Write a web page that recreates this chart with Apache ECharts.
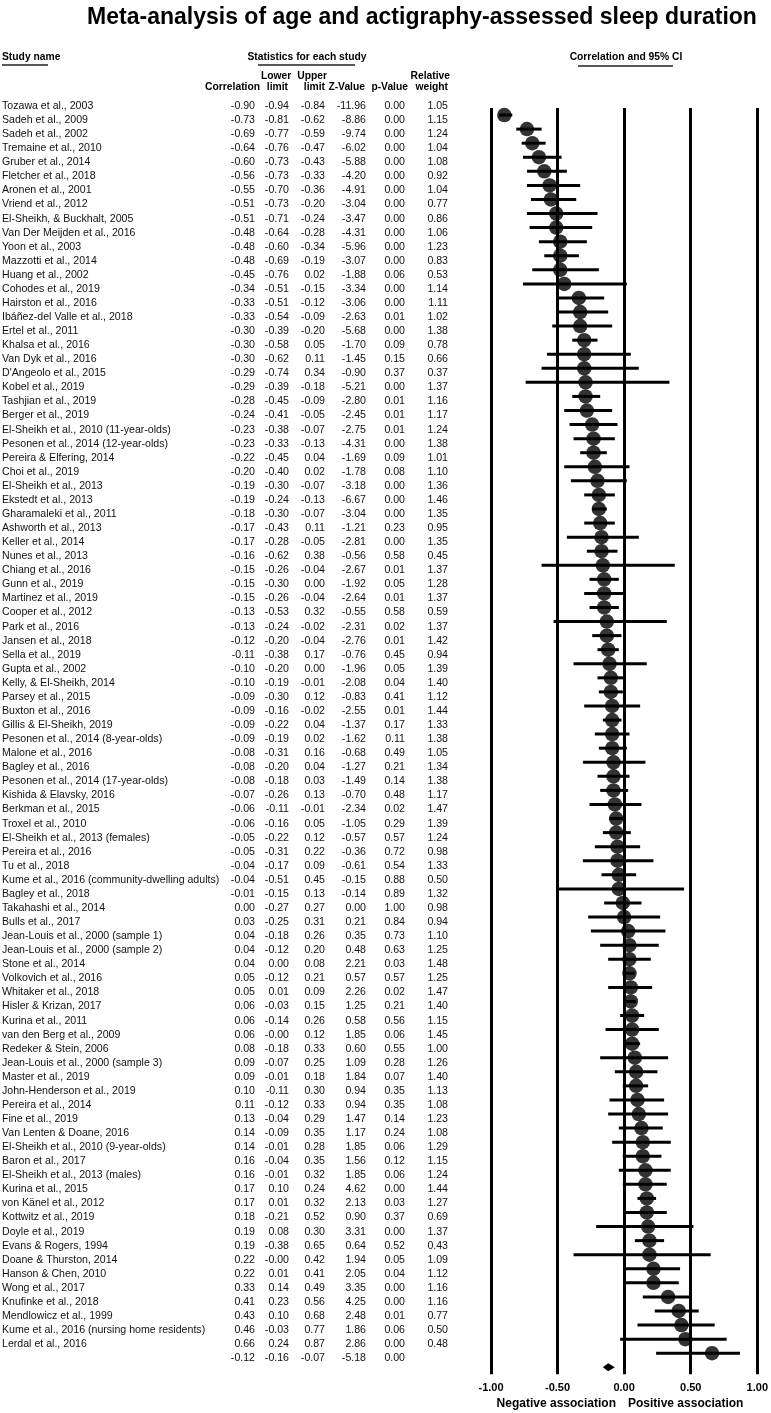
<!DOCTYPE html>
<html>
<head>
<meta charset="utf-8">
<script src="https://cdn.jsdelivr.net/npm/echarts@6/dist/echarts.min.js"></script>
<style>
  html, body { margin: 0; padding: 0; background: #fff; }
  #main { width: 771px; height: 1413px; }
</style>
</head>
<body>
<div id="main"></div>
<script>
// study data
var studies = [
  'Tozawa et al., 2003', 'Sadeh et al., 2009', 'Sadeh et al., 2002', 'Tremaine et al., 2010',
  'Gruber et al., 2014', 'Fletcher et al., 2018', 'Aronen et al., 2001', 'Vriend et al., 2012',
  'El-Sheikh, & Buckhalt, 2005', 'Van Der Meijden et al., 2016', 'Yoon et al., 2003', 'Mazzotti et al., 2014',
  'Huang et al., 2002', 'Cohodes et al., 2019', 'Hairston et al., 2016', 'Ibáñez-del Valle et al., 2018',
  'Ertel et al., 2011', 'Khalsa et al., 2016', 'Van Dyk et al., 2016', "D'Angeolo et al., 2015",
  'Kobel et al., 2019', 'Tashjian et al., 2019', 'Berger et al., 2019', 'El-Sheikh et al., 2010 (11-year-olds)',
  'Pesonen et al., 2014 (12-year-olds)', 'Pereira & Elfering, 2014', 'Choi et al., 2019', 'El-Sheikh et al., 2013',
  'Ekstedt et al., 2013', 'Gharamaleki et al., 2011', 'Ashworth et al., 2013', 'Keller et al., 2014',
  'Nunes et al., 2013', 'Chiang et al., 2016', 'Gunn et al., 2019', 'Martinez et al., 2019',
  'Cooper et al., 2012', 'Park et al., 2016', 'Jansen et al., 2018', 'Sella et al., 2019',
  'Gupta et al., 2002', 'Kelly, & El-Sheikh, 2014', 'Parsey et al., 2015', 'Buxton et al., 2016',
  'Gillis & El-Sheikh, 2019', 'Pesonen et al., 2014 (8-year-olds)', 'Malone et al., 2016', 'Bagley et al., 2016',
  'Pesonen et al., 2014 (17-year-olds)', 'Kishida & Elavsky, 2016', 'Berkman et al., 2015', 'Troxel et al., 2010',
  'El-Sheikh et al., 2013 (females)', 'Pereira et al., 2016', 'Tu et al., 2018', 'Kume et al., 2016 (community-dwelling adults)',
  'Bagley et al., 2018', 'Takahashi et al., 2014', 'Bulls et al., 2017', 'Jean-Louis et al., 2000 (sample 1)',
  'Jean-Louis et al., 2000 (sample 2)', 'Stone et al., 2014', 'Volkovich et al., 2016', 'Whitaker et al., 2018',
  'Hisler & Krizan, 2017', 'Kurina et al., 2011', 'van den Berg et al., 2009', 'Redeker & Stein, 2006',
  'Jean-Louis et al., 2000 (sample 3)', 'Master et al., 2019', 'John-Henderson et al., 2019', 'Pereira et al., 2014',
  'Fine et al., 2019', 'Van Lenten & Doane, 2016', 'El-Sheikh et al., 2010 (9-year-olds)', 'Baron et al., 2017',
  'El-Sheikh et al., 2013 (males)', 'Kurina et al., 2015', 'von Känel et al., 2012', 'Kottwitz et al., 2019',
  'Doyle et al., 2019', 'Evans & Rogers, 1994', 'Doane & Thurston, 2014', 'Hanson & Chen, 2010',
  'Wong et al., 2017', 'Knufinke et al., 2018', 'Mendlowicz et al., 1999', 'Kume et al., 2016 (nursing home residents)',
  'Lerdal et al., 2016'
];
var correlation = [
  -0.90, -0.73, -0.69, -0.64, -0.60, -0.56, -0.55, -0.51, -0.51, -0.48, -0.48, -0.48,
  -0.45, -0.34, -0.33, -0.33, -0.30, -0.30, -0.30, -0.29, -0.29, -0.28, -0.24, -0.23,
  -0.23, -0.22, -0.20, -0.19, -0.19, -0.18, -0.17, -0.17, -0.16, -0.15, -0.15, -0.15,
  -0.13, -0.13, -0.12, -0.11, -0.10, -0.10, -0.09, -0.09, -0.09, -0.09, -0.08, -0.08,
  -0.08, -0.07, -0.06, -0.06, -0.05, -0.05, -0.04, -0.04, -0.01, 0.00, 0.03, 0.04,
  0.04, 0.04, 0.05, 0.05, 0.06, 0.06, 0.06, 0.08, 0.09, 0.09, 0.10, 0.11,
  0.13, 0.14, 0.14, 0.16, 0.16, 0.17, 0.17, 0.18, 0.19, 0.19, 0.22, 0.22,
  0.33, 0.41, 0.43, 0.46, 0.66
];
var lowerLimit = [
  -0.94, -0.81, -0.77, -0.76, -0.73, -0.73, -0.70, -0.73, -0.71, -0.64, -0.60, -0.69,
  -0.76, -0.51, -0.51, -0.54, -0.39, -0.58, -0.62, -0.74, -0.39, -0.45, -0.41, -0.38,
  -0.33, -0.45, -0.40, -0.30, -0.24, -0.30, -0.43, -0.28, -0.62, -0.26, -0.30, -0.26,
  -0.53, -0.24, -0.20, -0.38, -0.20, -0.19, -0.30, -0.16, -0.22, -0.19, -0.31, -0.20,
  -0.18, -0.26, -0.11, -0.16, -0.22, -0.31, -0.17, -0.51, -0.15, -0.27, -0.25, -0.18,
  -0.12, 0.00, -0.12, 0.01, -0.03, -0.14, -0.00, -0.18, -0.07, -0.01, -0.11, -0.12,
  -0.04, -0.09, -0.01, -0.04, -0.01, 0.10, 0.01, -0.21, 0.08, -0.38, -0.00, 0.01,
  0.14, 0.23, 0.10, -0.03, 0.24
];
var upperLimit = [
  -0.84, -0.62, -0.59, -0.47, -0.43, -0.33, -0.36, -0.20, -0.24, -0.28, -0.34, -0.19,
  0.02, -0.15, -0.12, -0.09, -0.20, 0.05, 0.11, 0.34, -0.18, -0.09, -0.05, -0.07,
  -0.13, 0.04, 0.02, -0.07, -0.13, -0.07, 0.11, -0.05, 0.38, -0.04, 0.00, -0.04,
  0.32, -0.02, -0.04, 0.17, 0.00, -0.01, 0.12, -0.02, 0.04, 0.02, 0.16, 0.04,
  0.03, 0.13, -0.01, 0.05, 0.12, 0.22, 0.09, 0.45, 0.13, 0.27, 0.31, 0.26,
  0.20, 0.08, 0.21, 0.09, 0.15, 0.26, 0.12, 0.33, 0.25, 0.18, 0.30, 0.33,
  0.29, 0.35, 0.28, 0.35, 0.32, 0.24, 0.32, 0.52, 0.30, 0.65, 0.42, 0.41,
  0.49, 0.56, 0.68, 0.77, 0.87
];
var zValue = [
  -11.96, -8.86, -9.74, -6.02, -5.88, -4.20, -4.91, -3.04, -3.47, -4.31, -5.96, -3.07,
  -1.88, -3.34, -3.06, -2.63, -5.68, -1.70, -1.45, -0.90, -5.21, -2.80, -2.45, -2.75,
  -4.31, -1.69, -1.78, -3.18, -6.67, -3.04, -1.21, -2.81, -0.56, -2.67, -1.92, -2.64,
  -0.55, -2.31, -2.76, -0.76, -1.96, -2.08, -0.83, -2.55, -1.37, -1.62, -0.68, -1.27,
  -1.49, -0.70, -2.34, -1.05, -0.57, -0.36, -0.61, -0.15, -0.14, 0.00, 0.21, 0.35,
  0.48, 2.21, 0.57, 2.26, 1.25, 0.58, 1.85, 0.60, 1.09, 1.84, 0.94, 0.94,
  1.47, 1.17, 1.85, 1.56, 1.85, 4.62, 2.13, 0.90, 3.31, 0.64, 1.94, 2.05,
  3.35, 4.25, 2.48, 1.86, 2.86
];
var pValue = [
  0.00, 0.00, 0.00, 0.00, 0.00, 0.00, 0.00, 0.00, 0.00, 0.00, 0.00, 0.00,
  0.06, 0.00, 0.00, 0.01, 0.00, 0.09, 0.15, 0.37, 0.00, 0.01, 0.01, 0.01,
  0.00, 0.09, 0.08, 0.00, 0.00, 0.00, 0.23, 0.00, 0.58, 0.01, 0.05, 0.01,
  0.58, 0.02, 0.01, 0.45, 0.05, 0.04, 0.41, 0.01, 0.17, 0.11, 0.49, 0.21,
  0.14, 0.48, 0.02, 0.29, 0.57, 0.72, 0.54, 0.88, 0.89, 1.00, 0.84, 0.73,
  0.63, 0.03, 0.57, 0.02, 0.21, 0.56, 0.06, 0.55, 0.28, 0.07, 0.35, 0.35,
  0.14, 0.24, 0.06, 0.12, 0.06, 0.00, 0.03, 0.37, 0.00, 0.52, 0.05, 0.04,
  0.00, 0.00, 0.01, 0.06, 0.00
];
var relWeight = [
  1.05, 1.15, 1.24, 1.04, 1.08, 0.92, 1.04, 0.77, 0.86, 1.06, 1.23, 0.83,
  0.53, 1.14, 1.11, 1.02, 1.38, 0.78, 0.66, 0.37, 1.37, 1.16, 1.17, 1.24,
  1.38, 1.01, 1.10, 1.36, 1.46, 1.35, 0.95, 1.35, 0.45, 1.37, 1.28, 1.37,
  0.59, 1.37, 1.42, 0.94, 1.39, 1.40, 1.12, 1.44, 1.33, 1.38, 1.05, 1.34,
  1.38, 1.17, 1.47, 1.39, 1.24, 0.98, 1.33, 0.50, 1.32, 0.98, 0.94, 1.10,
  1.25, 1.48, 1.25, 1.47, 1.40, 1.15, 1.45, 1.00, 1.26, 1.40, 1.13, 1.08,
  1.23, 1.08, 1.29, 1.15, 1.24, 1.44, 1.27, 0.69, 1.37, 0.43, 1.09, 1.12,
  1.16, 1.16, 0.77, 0.50, 0.48
];
// pooled estimate: correlation, lower, upper, Z, p
var summaryStats = [-0.12, -0.16, -0.07, -5.18, 0.00];
var xTicks = [-1, -0.5, 0, 0.5, 1];

var nRows = studies.length + 1;   // studies + summary row
var summaryRow = studies.length;
var FONT = 'Liberation Sans, Arial, sans-serif';
var HEAD = 'bold 10.3px ' + FONT;

// right edges of the numeric columns in the table
var colRight = [255, 289, 325, 366, 405, 448];

// lower limits printed as "-0.00" in the original table
var negZeroLower = { 'van den Berg et al., 2009': 1, 'Doane & Thurston, 2014': 1 };

var tableRows = [];
for (var i = 0; i < nRows; i++) tableRows.push([0, i]);

var ciData = [];
var pointData = [];
for (var j = 0; j < studies.length; j++) {
  ciData.push([lowerLimit[j], upperLimit[j], j]);
  pointData.push([correlation[j], j]);
}

function headText(txt, x, y, align) {
  return {
    type: 'text', x: x, y: y,
    style: { text: txt, font: HEAD, fill: '#000', align: align, verticalAlign: 'middle' }
  };
}

var chart = echarts.init(document.getElementById('main'));

chart.setOption({
  animation: false,
  backgroundColor: '#fff',
  grid: [
    { left: 0, top: 99, width: 460, height: 1266.3 },
    { left: 491, top: 108, width: 270, height: 1266.3 }
  ],
  xAxis: [
    { gridIndex: 0, type: 'value', min: 0, max: 460, show: false },
    {
      gridIndex: 1, type: 'value', min: xTicks[0], max: xTicks[xTicks.length - 1], interval: 0.5,
      axisLine: { show: false }, axisTick: { show: false },
      splitLine: { show: true, lineStyle: { color: '#000', width: 3 } },
      axisLabel: {
        margin: 8, fontFamily: FONT, fontSize: 11, fontWeight: 'bold', color: '#000',
        formatter: function (v) { return v.toFixed(2); }
      }
    }
  ],
  yAxis: [
    { gridIndex: 0, type: 'value', min: -0.5, max: nRows - 0.5, inverse: true, show: false },
    { gridIndex: 1, type: 'value', min: -0.5, max: nRows - 0.5, inverse: true, show: false }
  ],
  graphic: [
    {
      type: 'text', x: 422, y: 18,
      style: {
        text: 'Meta-analysis of age and actigraphy-assessed sleep duration',
        font: 'bold 23px ' + FONT, fill: '#000', align: 'center', verticalAlign: 'middle'
      }
    },
    headText('Study name', 2, 57, 'left'),
    { type: 'line', shape: { x1: 2, y1: 65, x2: 48, y2: 65 }, style: { stroke: '#222', lineWidth: 1.5 } },
    headText('Statistics for each study', 307, 57, 'center'),
    { type: 'line', shape: { x1: 258, y1: 65, x2: 355, y2: 65 }, style: { stroke: '#222', lineWidth: 1.5 } },
    headText('Correlation and 95% CI', 626, 57, 'center'),
    { type: 'line', shape: { x1: 578, y1: 66, x2: 673, y2: 66 }, style: { stroke: '#222', lineWidth: 1.5 } },
    headText('Lower', 261, 76, 'left'),
    headText('Upper', 327, 76, 'right'),
    headText('Relative', 450, 76, 'right'),
    headText('Correlation', 260, 87, 'right'),
    headText('limit', 288, 87, 'right'),
    headText('limit', 325, 87, 'right'),
    headText('Z-Value', 365, 87, 'right'),
    headText('p-Value', 408, 87, 'right'),
    headText('weight', 448, 87, 'right'),
    {
      type: 'text', x: 616, y: 1404,
      style: { text: 'Negative association', font: 'bold 12px ' + FONT, fill: '#000', align: 'right', verticalAlign: 'middle' }
    },
    {
      type: 'text', x: 628, y: 1404,
      style: { text: 'Positive association', font: 'bold 12px ' + FONT, fill: '#000', align: 'left', verticalAlign: 'middle' }
    }
  ],
  series: [
    {
      // table of study statistics
      type: 'custom',
      xAxisIndex: 0, yAxisIndex: 0,
      data: tableRows,
      silent: true,
      renderItem: function (params, api) {
        var row = api.value(1);
        var y = api.coord([0, row])[1];
        var font = '10.6px ' + FONT;
        var children = [];
        var cells;
        if (row === summaryRow) {
          cells = summaryStats.map(function (v) { return v.toFixed(2); });
        } else {
          var lo = negZeroLower[studies[row]] ? '-0.00' : lowerLimit[row].toFixed(2);
          cells = [correlation[row].toFixed(2), lo, upperLimit[row].toFixed(2),
                   zValue[row].toFixed(2), pValue[row].toFixed(2), relWeight[row].toFixed(2)];
          children.push({
            type: 'text', x: 2, y: y,
            style: { text: studies[row], font: font, fill: '#111', align: 'left', verticalAlign: 'middle' }
          });
        }
        cells.forEach(function (c, k) {
          children.push({
            type: 'text', x: colRight[k], y: y,
            style: { text: c, font: font, fill: '#111', align: 'right', verticalAlign: 'middle' }
          });
        });
        return { type: 'group', children: children };
      }
    },
    {
      // 95% CI whiskers
      type: 'custom',
      xAxisIndex: 1, yAxisIndex: 1,
      data: ciData,
      encode: { x: [0, 1], y: 2 },
      renderItem: function (params, api) {
        var a = api.coord([api.value(0), api.value(2)]);
        var b = api.coord([api.value(1), api.value(2)]);
        return {
          type: 'line',
          shape: { x1: a[0], y1: a[1], x2: b[0], y2: b[1] },
          style: { stroke: '#000', lineWidth: 3 }
        };
      },
      z: 3
    },
    {
      type: 'scatter',
      xAxisIndex: 1, yAxisIndex: 1,
      data: pointData,
      symbol: 'circle',
      symbolSize: 14.5,
      itemStyle: { color: '#000' },
      z: 4
    },
    {
      // pooled estimate diamond
      type: 'custom',
      xAxisIndex: 1, yAxisIndex: 1,
      data: [[summaryStats[1], summaryStats[0], summaryStats[2], summaryRow]],
      encode: { x: [0, 1, 2], y: 3 },
      renderItem: function (params, api) {
        var row = api.value(3);
        var l = api.coord([api.value(0), row]);
        var m = api.coord([api.value(1), row]);
        var r = api.coord([api.value(2), row]);
        var h = 4;
        return {
          type: 'polygon',
          shape: { points: [[l[0], l[1]], [m[0], m[1] - h], [r[0], r[1]], [m[0], m[1] + h]] },
          style: { fill: '#000' }
        };
      },
      z: 4
    }
  ]
});
</script>
</body>
</html>
